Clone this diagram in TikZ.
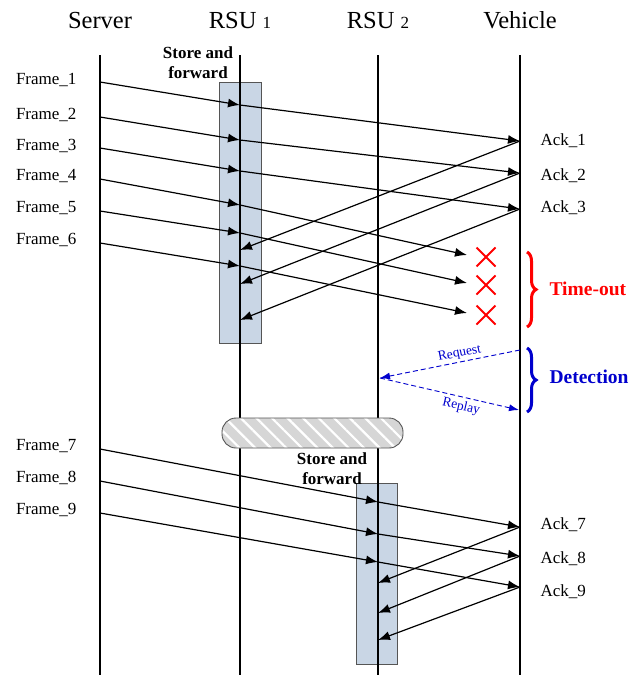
\documentclass[tikz,border=0pt]{standalone}
\usepackage{fontspec}
\setmainfont{Liberation Serif}
\usetikzlibrary{arrows.meta,patterns.meta,decorations.pathreplacing,shapes.misc}

\definecolor{sfblue}{RGB}{201,214,229}
\definecolor{sfedge}{RGB}{85,85,85}
\definecolor{hatchgray}{RGB}{214,214,214}
\definecolor{detblue}{RGB}{0,0,205}

\tikzset{
  head/.style={anchor=base,font=\fontsize{24.5}{27}\selectfont},
  lbl/.style={font=\fontsize{17}{19}\selectfont},
  lifeline/.style={line width=1.2pt},
  msg/.style={line width=1.2pt,-{Latex[length=12pt,width=9pt]}},
  sfbox/.style={draw=sfedge,fill=sfblue,line width=0.9pt},
  sflabel/.style={align=center,font=\fontsize{17}{20}\selectfont\bfseries},
  lost/.style={cross out,draw=red,line width=2pt,minimum size=17pt,inner sep=0pt},
  brc/.style={decorate,decoration={brace,amplitude=9pt},line width=3pt},
  det/.style={detblue,line width=0.9pt,dash pattern=on 5pt off 3pt},
  detlbl/.style={detblue,font=\fontsize{13.5}{15}\selectfont,inner sep=2pt}
}

\begin{document}
\begin{tikzpicture}[x=1pt,y=-1pt]
  \useasboundingbox (0,0) rectangle (640,675);

  \node[head] (server) at (100,28) {Server};
  \node[head] (rsua) at (240,28) {RSU {\fontsize{17}{17}\selectfont 1}};
  \node[head] (rsub) at (378,28) {RSU {\fontsize{17}{17}\selectfont 2}};
  \node[head] (vehicle) at (520,28) {Vehicle};

  \coordinate (st) at (100,55);  \coordinate (sb) at (100,675);
  \coordinate (at) at (240,55);  \coordinate (ab) at (240,675);
  \coordinate (bt) at (378,55);  \coordinate (bb) at (378,675);
  \coordinate (vt) at (520,55);  \coordinate (vb) at (520,675);

  \draw[sfbox] (219,82) rectangle (261,343);
  \draw[sfbox] (356,483) rectangle (397,664);

  \draw[lifeline] (st) -- (sb);
  \draw[lifeline] (at) -- (ab);
  \draw[lifeline] (bt) -- (bb);
  \draw[lifeline] (vt) -- (vb);

  \draw[sfedge,line width=0.9pt,rounded corners=14pt,preaction={fill=hatchgray},
        pattern={Lines[angle=-45,distance=11pt,line width=2.2pt]},pattern color=white]
        (222,418) rectangle (403,448);

  \node[sflabel] (sfa) at (198,63) {Store and\\forward};
  \node[sflabel] (sfb) at (332,469) {Store and\\forward};

  % frames 1-3 reach the vehicle
  \foreach \i/\ys/\ym/\ye/\ya in {1/82/105/141/141, 2/117/140/173/176, 3/148/171/209/208}{
    \node[lbl,anchor=east] (fl\i) at (80,\ys-2) {Frame\_\i};
    \coordinate (fs\i) at (100,\ys);
    \coordinate (fm\i) at (240,\ym);
    \coordinate (fe\i) at (520,\ye);
    \node[lbl,anchor=west] (al\i) at (537,\ya) {Ack\_\i};
    \draw[msg] (fs\i) -- (fm\i);
    \draw[msg] (fm\i) -- (fe\i);
  }

  % frames 4-6 get lost
  \foreach \i/\ys/\ym/\ye in {4/179/205/255, 5/211/233/283, 6/243/266/313}{
    \node[lbl,anchor=east] (fl\i) at (80,\ys-3) {Frame\_\i};
    \coordinate (fs\i) at (100,\ys);
    \coordinate (fm\i) at (240,\ym);
    \coordinate (fe\i) at (467,\ye);
    \node[lost] (x\i) at (486,\ye+2) {};
    \draw[msg] (fs\i) -- (fm\i);
    \draw[msg] (fm\i) -- (fe\i);
  }

  \foreach \i/\yb in {1/250, 2/284, 3/320}{
    \coordinate (ar\i) at (240,\yb);
    \draw[msg] (fe\i) -- (ar\i);
  }

  \draw[brc,red] (527,252) -- (527,327);
  \node[anchor=west,red,font=\fontsize{19.5}{22}\selectfont\bfseries] (tout) at (546,289) {Time-out};

  \coordinate (rq) at (520,350);
  \coordinate (rs) at (380,378);
  \coordinate (rp) at (519,410);
  \draw[det,{Latex[length=10pt,width=7pt]}-] (rs) -- node[detlbl,sloped,above,pos=0.58] (reqlbl) {Request} (rq);
  \draw[det,-{Latex[length=10pt,width=7pt]}] (rs) -- node[detlbl,sloped,below=1.5pt,pos=0.6] (replbl) {Replay} (rp);
  \draw[brc,detblue] (527,348) -- (527,412);
  \node[anchor=west,detblue,font=\fontsize{19.5}{22}\selectfont\bfseries] (dtc) at (546,377) {Detection};

  % frames 7-9 go through RSU 2
  \foreach \i/\ys/\ym/\ye/\ya/\yb in {7/449/502/527/525/583, 8/481/534/556/559/613, 9/513/562/587/592/640}{
    \node[lbl,anchor=east] (fl\i) at (80,\ys-3) {Frame\_\i};
    \coordinate (fs\i) at (100,\ys);
    \coordinate (fm\i) at (378,\ym);
    \coordinate (fe\i) at (520,\ye);
    \coordinate (ar\i) at (378,\yb);
    \node[lbl,anchor=west] (al\i) at (537,\ya) {Ack\_\i};
    \draw[msg] (fs\i) -- (fm\i);
    \draw[msg] (fm\i) -- (fe\i);
    \draw[msg] (fe\i) -- (ar\i);
  }
\end{tikzpicture}
\end{document}
